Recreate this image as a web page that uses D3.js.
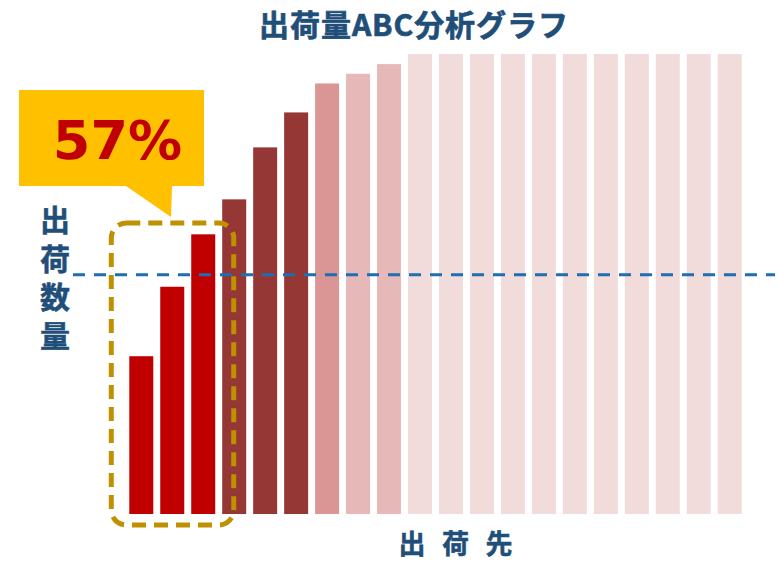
<!DOCTYPE html>
<html><head><meta charset="utf-8">
<script src="https://cdn.jsdelivr.net/npm/d3@7"></script>
<style>
html,body{margin:0;padding:0;background:#fff;}
svg{display:block;}
</style></head>
<body>
<script>
// ---- data ----
const titleText = "出荷量ABC分析グラフ";
const yLabelText = "出荷数量";
const xLabelChars = ["出","荷","先"];
const categories = d3.range(1, 21).map(i => "出荷先" + i);
// cumulative share of shipments (%) per destination, sorted
const cumValues = [34.3, 49.4, 60.8, 68.4, 79.7, 87.3, 93.6, 95.7, 97.8, 100, 100, 100, 100, 100, 100, 100, 100, 100, 100, 100];
const groups = ["A","A","A","B","B","B","C1","C2","C2","D","D","D","D","D","D","D","D","D","D","D"];
const groupNames = ["A","B","C1","C2","D"];
const groupColors = ["#C00000","#953735","#D99694","#E6B9B8","#F2DCDB"];
const referenceLine = 52; // %
const calloutText = "57%";
const highlightCount = 3;

const W = 783, H = 562;
const svg = d3.select("body").append("svg").attr("width", W).attr("height", H);

const x = d3.scaleBand().domain(categories).range([125.8, 745.2]).paddingInner(0.225).paddingOuter(0.1125);
const y = d3.scaleLinear().domain([0, 100]).range([514, 54]);
const color = d3.scaleOrdinal().domain(groupNames).range(groupColors);

// bars
svg.append("g").selectAll("rect").data(cumValues).join("rect")
  .attr("x", (d, i) => x(categories[i]))
  .attr("y", d => y(d))
  .attr("width", x.bandwidth())
  .attr("height", d => y(0) - y(d))
  .attr("fill", (d, i) => color(groups[i]));

// reference dashed line
svg.append("line")
  .attr("x1", 73).attr("x2", 775)
  .attr("y1", y(referenceLine)).attr("y2", y(referenceLine))
  .attr("stroke", "#1E6EB4").attr("stroke-width", 3)
  .attr("stroke-dasharray", "12,9");

// highlight rounded dashed box around first bars
const hx0 = x(categories[0]) - 18, hx1 = x(categories[highlightCount - 1]) + x.bandwidth() + 18.5;
svg.append("rect")
  .attr("x", hx0).attr("y", 223)
  .attr("width", hx1 - hx0).attr("height", y(0) + 11 - 223)
  .attr("rx", 15).attr("ry", 15)
  .attr("fill", "none").attr("stroke", "#BF9000").attr("stroke-width", 5)
  .attr("stroke-dasharray", "14,8");

// callout
const callout = svg.append("g");
callout.append("path")
  .attr("d", "M19,90 H204 V186 H172 L171,217 L126,186 H19 Z")
  .attr("fill", "#FFC000");
callout.append("text")
  .attr("x", 117.5).attr("y", 159)
  .attr("text-anchor", "middle")
  .attr("font-family", "'DejaVu Sans', sans-serif")
  .attr("font-weight", "bold").attr("font-size", 54)
  .attr("fill", "#C00000")
  .text(calloutText);

// title
svg.append("text")
  .attr("x", 259).attr("y", 35.5)
  .attr("textLength", 309).attr("lengthAdjust", "spacing")
  .attr("font-family", "'Noto Sans CJK JP', sans-serif")
  .attr("font-weight", "bold").attr("font-size", 30)
  .attr("fill", "#1F4E79").attr("stroke", "#1F4E79").attr("stroke-width", 0.7)
  .text(titleText);

// y label (vertical writing)
svg.append("text")
  .attr("x", 55).attr("y", 205)
  .style("writing-mode", "vertical-rl")
  .style("letter-spacing", "8.5px")
  .attr("font-family", "'Noto Sans CJK JP', sans-serif")
  .attr("font-weight", "bold").attr("font-size", 30)
  .attr("fill", "#1F4E79").attr("stroke", "#1F4E79").attr("stroke-width", 0.5)
  .text(yLabelText);

// x label
svg.append("g").selectAll("text").data(xLabelChars).join("text")
  .attr("x", (d, i) => 412 + i * 43.5).attr("y", 542)
  .attr("text-anchor", "middle").attr("dominant-baseline", "central")
  .attr("font-family", "'Noto Sans CJK JP', sans-serif")
  .attr("font-weight", "bold").attr("font-size", 27)
  .attr("fill", "#1F4E79").attr("stroke", "#1F4E79").attr("stroke-width", 0.5)
  .text(d => d);
</script>
</body></html>
